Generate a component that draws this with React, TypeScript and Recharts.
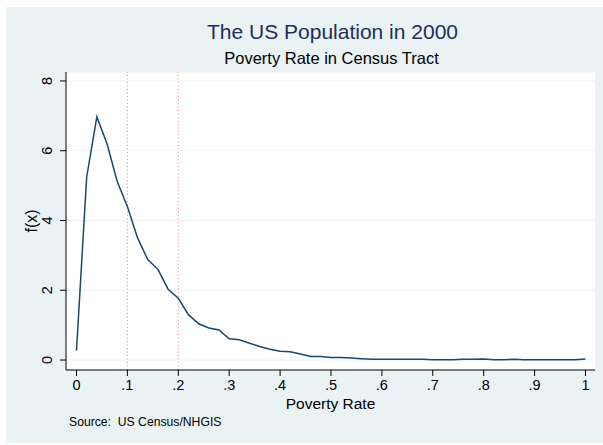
import React from 'react';
import {
    LineChart,
    Line,
    XAxis,
    YAxis,
    CartesianGrid,
    ReferenceLine,
    Label,
} from 'recharts';

const povertyRate = [
    0, 0.02, 0.04, 0.06, 0.08, 0.1, 0.12, 0.14, 0.16, 0.18,
    0.2, 0.22, 0.24, 0.26, 0.28, 0.3, 0.32, 0.34, 0.36, 0.38,
    0.4, 0.42, 0.44, 0.46, 0.48, 0.5, 0.52, 0.54, 0.56, 0.58,
    0.6, 0.62, 0.64, 0.66, 0.68, 0.7, 0.72, 0.74, 0.76, 0.78,
    0.8, 0.82, 0.84, 0.86, 0.88, 0.9, 0.92, 0.94, 0.96, 0.98, 1,
];

const density = [
    0.27, 5.24, 6.97, 6.2, 5.12, 4.4, 3.5, 2.88, 2.6, 2.03,
    1.77, 1.3, 1.04, 0.92, 0.86, 0.61, 0.58, 0.48, 0.39, 0.31,
    0.25, 0.24, 0.17, 0.1, 0.1, 0.07, 0.07, 0.06, 0.04, 0.02,
    0.02, 0.02, 0.02, 0.02, 0.02, 0.01, 0.01, 0.01, 0.02, 0.02,
    0.03, 0.01, 0.01, 0.02, 0.01, 0.01, 0.01, 0.01, 0.01, 0.01, 0.03,
];

const xTicks = [0, 0.1, 0.2, 0.3, 0.4, 0.5, 0.6, 0.7, 0.8, 0.9, 1];
const yTicks = [0, 2, 4, 6, 8];
const cutoffs = [0.1, 0.2];

const data = povertyRate.map((x, i) => ({ x, fx: density[i] }));

const FONT = '"Liberation Sans", Arial, Helvetica, sans-serif';
const BG = '#eaf2f3';

// stata-style labels: 0 and 1 plain, the rest as ".3"
const fmtX = (v: number) => {
    if (v === 0) return '0';
    if (v === 1) return '1';
    return '.' + Math.round(v * 10);
};

function YTick(props: any) {
    const { y, payload } = props;
    const bx = 52;
    return (
        <text
            x={bx}
            y={y}
            transform={`rotate(-90, ${bx}, ${y})`}
            textAnchor="middle"
            fontSize={14.5}
            fontFamily={FONT}
            fill="#000"
        >
            {payload.value}
        </text>
    );
}

export default function App() {
    return (
        <div style={{ position: 'absolute', left: 0, top: 0, width: 603, height: 445, background: '#fff', fontFamily: FONT }}>
            <div style={{ position: 'absolute', left: 6, top: 7, width: 597, height: 436, background: BG }} />
            <div style={{ position: 'absolute', left: 0, width: 665, top: 20, textAlign: 'center', fontSize: 21, color: '#1c2f5e', lineHeight: '24px' }}>
                The US Population in 2000
            </div>
            <div style={{ position: 'absolute', left: 0, width: 663, top: 48, textAlign: 'center', fontSize: 16.5, color: '#000', lineHeight: '20px' }}>
                Poverty Rate in Census Tract
            </div>
            <div style={{ position: 'absolute', left: 69, top: 415, fontSize: 12.2, color: '#000', whiteSpace: 'pre' }}>
                {'Source:  US Census/NHGIS'}
            </div>
            <div style={{ position: 'absolute', left: 0, top: 0 }}>
                <LineChart
                    width={603}
                    height={445}
                    data={data}
                    margin={{ top: 72, right: 8, left: 0, bottom: 0 }}
                >
                    <CartesianGrid vertical={false} stroke={BG} fill="#fff" />
                    <XAxis
                        type="number"
                        dataKey="x"
                        domain={[-0.0206, 1.0187]}
                        ticks={xTicks}
                        tickFormatter={fmtX}
                        allowDataOverflow
                        height={75}
                        stroke="#000"
                        tickSize={6}
                        tickMargin={4}
                        tick={{ fill: '#000', fontSize: 14.5, fontFamily: FONT }}
                    >
                        <Label
                            value="Poverty Rate"
                            position="insideTop"
                            offset={28}
                            style={{ fill: '#000', fontSize: 15.5, fontFamily: FONT }}
                        />
                    </XAxis>
                    <YAxis
                        type="number"
                        domain={[-0.286, 8.257]}
                        ticks={yTicks}
                        allowDataOverflow
                        width={66}
                        stroke="#000"
                        tickSize={6}
                        tick={<YTick />}
                    >
                        <Label
                            content={({ viewBox }: any) => {
                                const cx = 37;
                                const cy = viewBox.y + viewBox.height / 2;
                                return (
                                    <text
                                        x={cx}
                                        y={cy}
                                        transform={`rotate(-90, ${cx}, ${cy})`}
                                        textAnchor="middle"
                                        fontSize={16}
                                        fontFamily={FONT}
                                        fill="#000"
                                    >
                                        f(x)
                                    </text>
                                );
                            }}
                        />
                    </YAxis>
                    {cutoffs.map((c) => (
                        <ReferenceLine
                            key={c}
                            x={c}
                            stroke="#ff7a7a"
                            strokeWidth={1}
                            strokeDasharray="1 2.5"
                        />
                    ))}
                    <Line
                        type="linear"
                        dataKey="fx"
                        stroke="#1a476f"
                        strokeWidth={1.5}
                        dot={false}
                        activeDot={false}
                        isAnimationActive={false}
                    />
                </LineChart>
            </div>
        </div>
    );
}
